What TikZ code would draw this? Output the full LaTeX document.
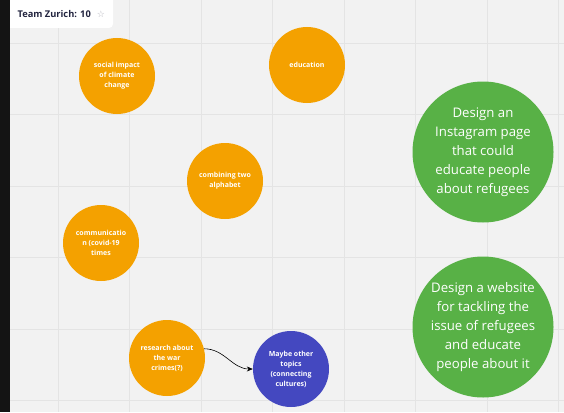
\documentclass[tikz,border=0pt]{standalone}
\usepackage{fontspec}
\setmainfont{Open Sans}
\newfontfamily\symfont{DejaVu Sans}
\usepackage{tikz}
\usetikzlibrary{arrows.meta,backgrounds}
\definecolor{zhInk}{HTML}{22243F}
\definecolor{zhCanvas}{HTML}{F2F2F2}
\definecolor{zhGrid}{HTML}{E4E4E4}
\definecolor{zhOrange}{HTML}{F4A100}
\definecolor{zhBlue}{HTML}{4448C0}
\definecolor{zhGreen}{HTML}{58B146}
\definecolor{zhStar}{HTML}{B8B8C0}
\tikzset{
  % Small orange idea circle
  obox/.style={circle,inner sep=0pt,minimum size=76pt,
    fill=zhOrange,text=white,align=center,
    font=\fontsize{7}{10}\selectfont\bfseries},
  % Blue idea circle
  bbox/.style={obox,fill=zhBlue},
  % Big green idea circle
  gbox/.style={circle,inner sep=0pt,minimum size=141pt,
    fill=zhGreen,text=white,align=center,
    font=\fontsize{13.2}{19}\selectfont},
  % Board header
  hlbl/.style={font=\fontsize{9.3}{10}\selectfont\bfseries,text=zhInk,anchor=west},
  % Arrows
  arr/.style={-{Stealth[length=6pt,width=5pt]},semithick,color=black},
}
\begin{document}
\begin{tikzpicture}[x=1pt,y=-1pt]

  \useasboundingbox (0,0) rectangle (564,412);
  \fill[zhCanvas] (0,0) rectangle (564,412);

  % board grid
  \foreach \gx in {58,129.5,201,272.5,344,415.5,487,558.5}
    \draw[zhGrid,line width=0.8pt] (\gx,0) -- (\gx,412);
  \foreach \gy in {43,114.5,186,257.5,329,400.5}
    \draw[zhGrid,line width=0.8pt] (0,\gy) -- (564,\gy);

  % header tag and left bar
  \fill[white,rounded corners=4pt] (4,-6) rectangle (113,28);
  \fill[black!92] (0,0) rectangle (10,412);
  \node[hlbl] (title) at (14,14) {Team Zurich: 10};
  \node[font=\symfont\fontsize{9}{10}\selectfont,text=zhStar] (star) at (101,14) {☆};

  % orange topics
  \node[obox] (climate) at (117,76) {social impact\\of climate\\change};
  \node[obox] (educ) at (307,65) {education};
  \node[obox] (alphabet) at (225,181) {combining two\\alphabet};
  \node[obox] (comm) at (101,243) {communicatio\\n (covid-19\\times};
  \node[obox] (crimes) at (167,358) {research about\\the war\\crimes(?)};
  \node[bbox] (other) at (291,369) {Maybe other\\topics\\(connecting\\cultures)};

  % green proposals
  \node[gbox] (insta) at (483,152)
    {Design an\\Instagram page\\that could\\educate people\\about refugees};
  \node[gbox] (web) at (483,327)
    {Design a website\\for tackling the\\issue of refugees\\and educate\\people about it};

  \draw[arr] (crimes.14) to[out=0,in=180] (other.west);

\end{tikzpicture}
\end{document}
